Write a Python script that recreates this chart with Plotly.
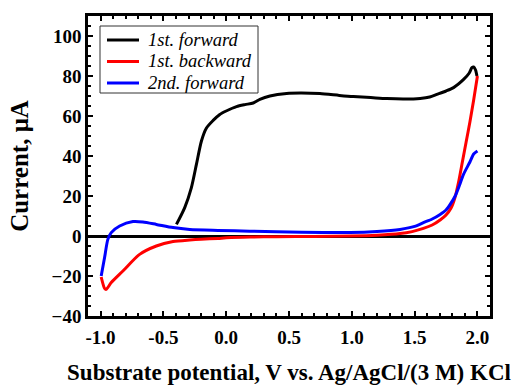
import plotly.graph_objects as go

# Cyclic voltammetry sweeps: substrate potential (V) vs. current (µA)
forward1_v = [-0.396, -0.33, -0.277, -0.237, -0.197, -0.157, -0.104, -0.051, 0.0, 0.082,
              0.15, 0.215, 0.268, 0.348, 0.481, 0.6, 0.746, 0.9, 1.012, 1.15,
              1.278, 1.42, 1.544, 1.62, 1.677, 1.75, 1.81, 1.89, 1.935, 1.956,
              1.97, 1.985, 1.996]
forward1_i = [5.8, 14.2, 24.2, 35.8, 47.5, 54.0, 57.8, 60.8, 62.5, 64.7,
              65.7, 66.5, 68.3, 70.0, 71.3, 71.5, 71.2, 70.3, 69.7, 69.2,
              68.7, 68.5, 68.8, 69.5, 70.8, 72.5, 74.2, 78.3, 81.5, 84.2,
              84.5, 83.0, 80.0]

backward1_v = [2.0, 1.97, 1.94, 1.91, 1.88, 1.85, 1.82, 1.79, 1.75, 1.703,
               1.64, 1.57, 1.48, 1.384, 1.2, 0.986, 0.7, 0.4, 0.188, 0.0,
               -0.065, -0.2, -0.29, -0.423, -0.556, -0.689, -0.822, -0.915, -0.955, -0.968,
               -0.995]
backward1_i = [80.0, 68.0, 57.0, 47.0, 37.0, 27.0, 19.0, 14.0, 10.5, 8.0,
               5.5, 3.8, 2.2, 1.2, 0.4, 0.0, -0.2, -0.4, -0.5, -0.9,
               -1.2, -1.6, -2.0, -2.8, -5.0, -9.2, -17.5, -23.3, -26.7, -26.2,
               -20.5]

forward2_v = [-0.995, -0.968, -0.942, -0.915, -0.848, -0.742, -0.663, -0.556, -0.423, -0.29,
              -0.065, 0.187, 0.6, 0.986, 1.2, 1.384, 1.5, 1.57, 1.64, 1.703,
              1.75, 1.783, 1.823, 1.855, 1.889, 1.94, 1.97, 2.0]
forward2_i = [-20.0, -10.8, -1.7, 1.7, 5.0, 7.2, 7.0, 5.8, 4.2, 3.3,
              2.8, 2.4, 1.9, 1.8, 2.3, 3.3, 4.8, 6.7, 8.5, 10.8,
              13.0, 15.8, 20.0, 25.0, 30.8, 37.0, 41.0, 42.5]

series_names = ["1st. forward", "1st. backward", "2nd. forward"]
series_colors = ["#000000", "#ff0000", "#0000ff"]

x_ticks = [-1.0, -0.5, 0.0, 0.5, 1.0, 1.5, 2.0]
y_ticks = [-40, -20, 0, 20, 40, 60, 80, 100]

FONT = "'Times New Roman', 'Liberation Serif', serif"

W, H = 514, 389
M_L, M_R, M_T, M_B = 88, 24, 16, 73
PLOT_W, PLOT_H = W - M_L - M_R, H - M_T - M_B


def px_to_paper(px, py):
    """Convert a pixel position on the page into paper coordinates."""
    return (px - M_L) / PLOT_W, (H - M_B - py) / PLOT_H


fig = go.Figure()
for v, i, name, color in zip(
    [forward1_v, backward1_v, forward2_v],
    [forward1_i, backward1_i, forward2_i],
    series_names, series_colors,
):
    fig.add_trace(go.Scatter(
        x=v, y=i, mode="lines", name=name, showlegend=False,
        line=dict(color=color, width=3, shape="spline", smoothing=0.7),
    ))

# Boxed legend in the upper-left corner (compact row spacing)
bx0, by0 = px_to_paper(100, 93)
bx1, by1 = px_to_paper(258, 26)
fig.add_shape(type="rect", xref="paper", yref="paper", x0=bx0, y0=by0, x1=bx1, y1=by1,
              line=dict(color="#333333", width=1), fillcolor="white", layer="above")
for k, (name, color) in enumerate(zip(series_names, series_colors)):
    row_y = 40 + k * 21.5
    lx0, ly = px_to_paper(107, row_y)
    lx1, _ = px_to_paper(139, row_y)
    tx, ty = px_to_paper(146, row_y)
    fig.add_shape(type="line", xref="paper", yref="paper", x0=lx0, x1=lx1, y0=ly, y1=ly,
                  line=dict(color=color, width=3), layer="above")
    fig.add_annotation(xref="paper", yref="paper", x=tx, y=ty, xanchor="left", yanchor="middle",
                       text=name, showarrow=False,
                       font=dict(family=FONT, size=18.5, color="black", style="italic"))

axis_common = dict(
    showline=True, linecolor="black", linewidth=2.5, mirror="allticks",
    ticks="inside", ticklen=5, tickwidth=1.5, tickcolor="black",
    showgrid=False, automargin=False,
    tickfont=dict(family=FONT, size=19, color="black", weight="bold"),
)

fig.update_xaxes(
    range=[-1.1, 2.1], tickvals=x_ticks, ticktext=[f"{t:.1f}" for t in x_ticks],
    minor=dict(dtick=0.1, tick0=0, ticks="inside", ticklen=3, tickwidth=1.5, tickcolor="black"),
    zeroline=False, ticklabelstandoff=2,
    title=dict(text="Substrate potential, V vs. Ag/AgCl/(3 M) KCl",
               font=dict(family=FONT, size=23, color="black", weight="bold"), standoff=18),
    **axis_common,
)
fig.update_yaxes(
    range=[-40, 110], tickvals=y_ticks,
    minor=dict(dtick=5, tick0=0, ticks="inside", ticklen=3, tickwidth=1.5, tickcolor="black"),
    zeroline=True, zerolinecolor="black", zerolinewidth=2.5,
    title=dict(text="Current, μA",
               font=dict(family=FONT, size=25, color="black", weight="bold"), standoff=16),
    **axis_common,
)

fig.update_layout(
    width=W, height=H,
    margin=dict(l=M_L, r=M_R, t=M_T, b=M_B),
    paper_bgcolor="white", plot_bgcolor="white",
    showlegend=False,
)

fig.write_html("out.html")
